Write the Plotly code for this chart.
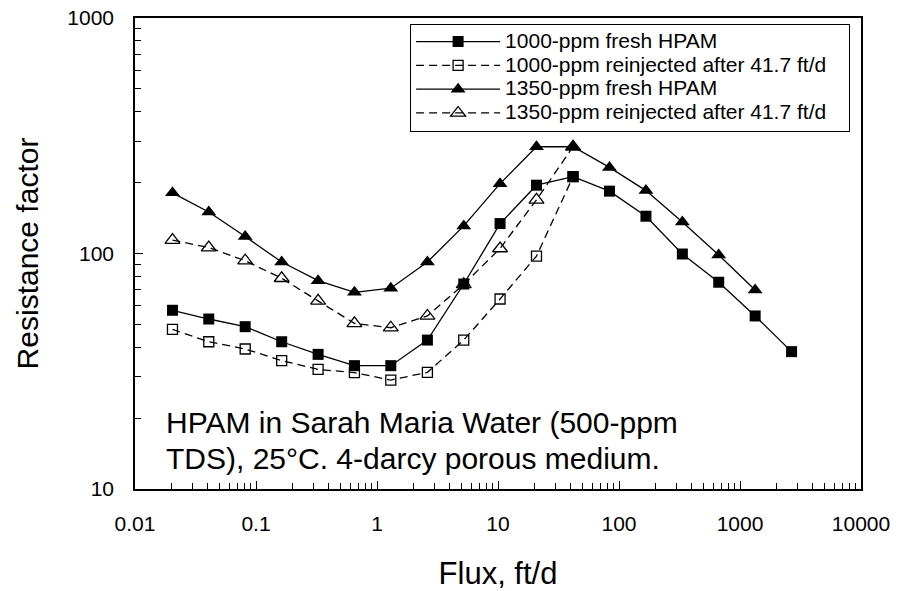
import plotly.graph_objects as go

flux = [0.0204, 0.0407, 0.0814, 0.163, 0.326, 0.651, 1.30, 2.61, 5.21, 10.4, 20.8, 41.7,
        83.4, 167, 334, 667, 1334, 2668]

fresh_1000 = [57.4, 52.7, 48.9, 42.2, 37.3, 33.4, 33.4, 42.9, 74.2, 134, 195, 212,
              184, 144, 99.5, 75.5, 54.3, 38.3]
reinj_1000 = [47.6, 42.2, 39.3, 35.1, 32.2, 31.2, 29.0, 31.3, 42.9, 64.1, 97.5, 212]

fresh_1350 = [181, 150, 118, 92, 76.7, 68.4, 71.2, 92, 131, 198, 284, 284,
              232, 185, 136, 98.6, 70]
reinj_1350 = [114, 106, 93.2, 78.5, 62.9, 50.5, 48.4, 54.3, 74, 105, 169, 284]

names = ["1000-ppm fresh HPAM", "1000-ppm reinjected after 41.7 ft/d",
         "1350-ppm fresh HPAM", "1350-ppm reinjected after 41.7 ft/d"]

x_tickvals = [0.01, 0.1, 1, 10, 100, 1000, 10000]
x_ticktext = ["0.01", "0.1", "1", "10", "100", "1000", "10000"]
y_tickvals = [10, 100, 1000]
y_ticktext = ["10", "100", "1000"]

note_lines = ["HPAM in Sarah Maria Water (500-ppm", "TDS), 25°C. 4-darcy porous medium."]

FONT = "Liberation Sans, Arial, sans-serif"
LW = 1.3
DASH = "8px,5px"


def leg(name):
    # larger glyphs than the legend's row font so the rows stay compact
    return '<span style="font-size:21px">' + name + '&nbsp;&nbsp;&nbsp;</span>'


fig = go.Figure()
# reinjected first (drawn underneath), fresh on top; legend order via legendrank
fig.add_trace(go.Scatter(
    x=flux[:len(reinj_1000)], y=reinj_1000, name=leg(names[1]), mode="lines+markers",
    line=dict(color="black", width=LW, dash=DASH),
    marker=dict(symbol="square-open", size=10, color="black", line=dict(width=1.3)),
    legendrank=2))
fig.add_trace(go.Scatter(
    x=flux[:len(reinj_1350)], y=reinj_1350, name=leg(names[3]), mode="lines+markers",
    line=dict(color="black", width=LW, dash=DASH),
    marker=dict(symbol="triangle-up-open", size=13, color="black", line=dict(width=1.3)),
    legendrank=4))
fig.add_trace(go.Scatter(
    x=flux[:len(fresh_1000)], y=fresh_1000, name=leg(names[0]), mode="lines+markers",
    line=dict(color="black", width=LW),
    marker=dict(symbol="square", size=11, color="black"),
    legendrank=1))
fig.add_trace(go.Scatter(
    x=flux[:len(fresh_1350)], y=fresh_1350, name=leg(names[2]), mode="lines+markers",
    line=dict(color="black", width=LW),
    marker=dict(symbol="triangle-up", size=13, color="black"),
    legendrank=3))

axis_common = dict(
    type="log", showline=True, linecolor="black", linewidth=1.5, mirror=True,
    ticks="inside", ticklen=8, tickwidth=1.2, tickcolor="black",
    showgrid=False, zeroline=False, ticklabeloverflow="allow", automargin=False,
    tickfont=dict(family=FONT, size=21, color="black"),
    minor=dict(ticks="inside", ticklen=6, tickwidth=1, tickcolor="black", dtick="D1", showgrid=False),
)

fig.update_xaxes(**axis_common, range=[-2, 4], tickvals=x_tickvals, ticktext=x_ticktext,
                 ticklabelstandoff=15,
                 title=dict(text="Flux, ft/d", font=dict(family=FONT, size=31, color="black"), standoff=28))
fig.update_yaxes(**axis_common, range=[1, 3], tickvals=y_tickvals, ticktext=y_ticktext,
                 ticklabelstandoff=15,
                 title=dict(text="Resistance factor", font=dict(family=FONT, size=30, color="black"), standoff=20))

for i, (txt, yy) in enumerate(zip(note_lines, [0.1412, 0.0637])):
    fig.add_annotation(x=0.04, y=yy, xref="paper", yref="paper", text=txt, showarrow=False,
                       xanchor="left", yanchor="middle",
                       font=dict(family=FONT, size=30, color="black"))

fig.update_layout(
    width=898, height=591,
    margin=dict(l=135, r=37, t=18, b=102),
    paper_bgcolor="white", plot_bgcolor="white",
    showlegend=True,
    legend=dict(x=0.985, y=0.988, xanchor="right", yanchor="top",
                bgcolor="white", bordercolor="black", borderwidth=1,
                font=dict(family=FONT, size=16, color="black"),
                itemwidth=84, tracegroupgap=0),
)

# remove the browser's default 8px page margin so the figure sits at the window corner
fig.write_html("out.html", config={"displayModeBar": False},
               post_script="document.body.style.margin='0px';")
